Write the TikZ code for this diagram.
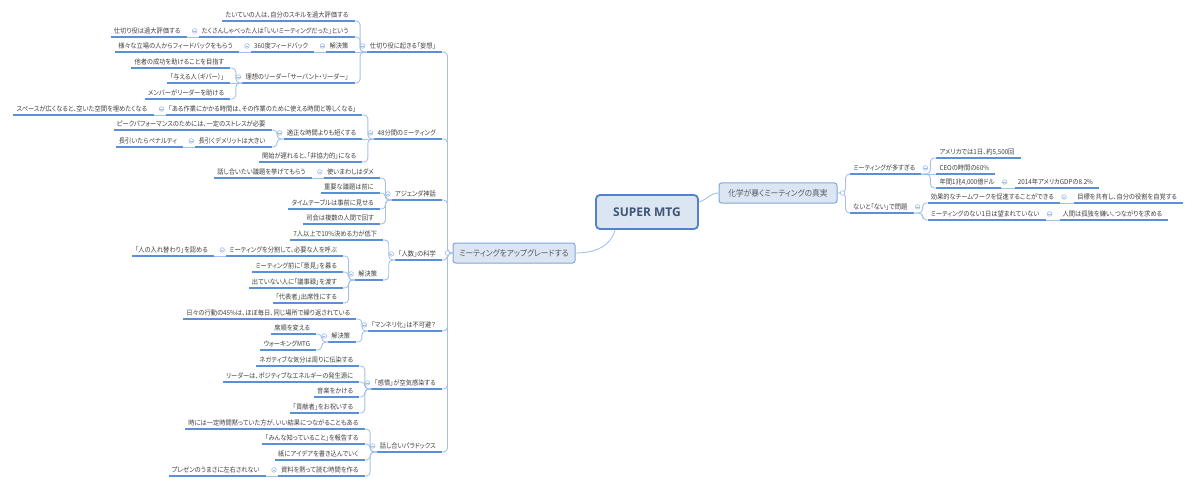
\documentclass[tikz,border=0pt]{standalone}
\usepackage{fontspec}
\newfontfamily\jp[RawFeature=+palt,FakeStretch=0.92]{Noto Sans CJK JP}
\newfontfamily\lat{Open Sans}
\usetikzlibrary{calc}
\definecolor{ulc}{HTML}{5B8FD6}
\definecolor{conc}{HTML}{A3C1EA}
\definecolor{mkc}{HTML}{9DBBE3}
\definecolor{txt}{HTML}{404040}
\definecolor{boxf}{HTML}{DCE6F3}
\definecolor{boxd}{HTML}{7EA6DC}
\definecolor{rootd}{HTML}{5083CC}
\definecolor{boxt}{HTML}{555B63}
\definecolor{roott}{HTML}{3E5478}
\newcommand\conL[2]{\draw[con] (#1.south west) -- ++(-6.5,0) |- (#2.south east);}
\newcommand\strL[2]{\draw[con] (#1.south west) -- (#2.south east);}
\newcommand\conR[2]{\draw[con] (#1.south east) -- ++(9,0) |- (#2.south west);}
\newcommand\strR[2]{\draw[con] (#1.south east) -- (#2.south west);}
\newcommand\mkL[1]{\draw[mk] ([xshift=-4pt]#1.west) circle (2.3pt); \draw[mkc,line width=0.5pt] ([xshift=-5.2pt]#1.west) -- ([xshift=-2.8pt]#1.west);}
\newcommand\mkR[1]{\draw[mk] ([xshift=4pt]#1.east) circle (2.3pt); \draw[mkc,line width=0.5pt] ([xshift=2.8pt]#1.east) -- ([xshift=5.2pt]#1.east);}
\begin{document}
\begin{tikzpicture}[x=1pt,y=-1pt,
  ul/.style={draw=ulc, line width=1.3pt},
  lf/.style={font=\jp\fontsize{6.8}{8}\selectfont, text=txt, inner xsep=3pt, inner ysep=2.4pt,
     text height=5.6pt, text depth=1.3pt, execute at end node={\hspace{3pt}},
     append after command={(\tikzlastnode.south west) edge[ul] (\tikzlastnode.south east)}},
  L/.style={lf, anchor=south east},
  R/.style={lf, anchor=south west},
  con/.style={draw=conc, line width=0.9pt, rounded corners=4pt},
  mk/.style={draw=mkc, fill=white, line width=0.6pt},
  box/.style={draw=boxd, fill=boxf, rounded corners=2.5pt, line width=1pt,
     font=\jp\fontsize{8.4}{9}\selectfont, text=boxt, minimum height=20pt},
  root/.style={draw=rootd, fill=boxf, rounded corners=4pt, line width=1.8pt,
     minimum width=102pt, minimum height=34pt, font=\lat\bfseries\fontsize{12}{14}\selectfont, text=roott}
]
\useasboundingbox (0,0) rectangle (1200,484);

% main boxes
\node[root] (root) at (647,212) {SUPER MTG};
\node[box, minimum width=122pt] (m1) at (514,253) {ミーティングをアップグレードする};
\node[box, minimum width=118pt] (m2) at (778,193) {化学が暴くミーティングの真実};

% level 2 left
\node[L] (a) at (442,52) {仕切り役に起きる「妄想」};
\node[L] (b) at (442,139) {48分間のミーティング};
\node[L] (c) at (442,200) {アジェンダ神話};
\node[L] (d) at (442,260) {「人数」の科学};
\node[L] (e) at (442,331) {「マンネリ化」は不可避？};
\node[L] (f) at (442,389) {「感情」が空気感染する};
\node[L] (g) at (442,452) {話し合いパラドックス};

% a
\coordinate (aX) at ([xshift=-12pt]a.south west);
\node[L] (a1) at (aX |- 0,21) {たいていの人は、自分のスキルを過大評価する};
\node[L] (a2) at (aX |- 0,37) {たくさんしゃべった人は「いいミーティングだった」という};
\node[L] (a3) at (aX) {解決策};
\node[L] (a4) at (aX |- 0,83) {理想のリーダー「サーバント・リーダー」};
\node[L] (a2a) at ([xshift=-12pt]a2.south west) {仕切り役は過大評価する};
\node[L] (a3a) at ([xshift=-12pt]a3.south west) {360度フィードバック};
\node[L] (a3a1) at ([xshift=-12pt]a3a.south west) {様々な立場の人からフィードバックをもらう};
\coordinate (a4X) at ([xshift=-12pt]a4.south west);
\node[L] (a4a) at (a4X |- 0,68) {他者の成功を助けることを目指す};
\node[L] (a4b) at (a4X) {「与える人（ギバー）」};
\node[L] (a4c) at (a4X |- 0,99) {メンバーがリーダーを助ける};

% b
\coordinate (bX) at ([xshift=-12pt]b.south west);
\node[L] (b1) at (bX |- 0,115) {「ある作業にかかる時間は、その作業のために使える時間と等しくなる」};
\node[L] (b1a) at ([xshift=-12pt]b1.south west) {スペースが広くなると、空いた空間を埋めたくなる};
\node[L] (b2) at (bX) {適正な時間よりも短くする};
\node[L] (b3) at (bX |- 0,162) {開始が遅れると、「非協力的」になる};
\coordinate (b2X) at ([xshift=-12pt]b2.south west);
\node[L] (b2a) at (b2X |- 0,130) {ピークパフォーマンスのためには、一定のストレスが必要};
\node[L] (b2b) at (b2X |- 0,147) {長引くデメリットは大きい};
\node[L] (b2b1) at ([xshift=-12pt]b2b.south west) {長引いたらペナルティ};

% c
\coordinate (cX) at ([xshift=-12pt]c.south west);
\node[L] (c1) at (cX |- 0,178) {使いまわしはダメ};
\node[L] (c2) at (cX |- 0,193) {重要な議題は前に};
\node[L] (c3) at (cX |- 0,209) {タイムテーブルは事前に見せる};
\node[L] (c4) at (cX |- 0,224) {司会は複数の人間で回す};
\node[L] (c1a) at ([xshift=-12pt]c1.south west) {話し合いたい議題を挙げてもらう};

% d
\coordinate (dX) at ([xshift=-12pt]d.south west);
\node[L] (d1) at (dX |- 0,240) {7人以上で10\%決める力が低下};
\node[L] (d2) at (dX |- 0,280) {解決策};
\coordinate (d2X) at ([xshift=-12pt]d2.south west);
\node[L] (d2a) at (d2X |- 0,256) {ミーティングを分割して、必要な人を呼ぶ};
\node[L] (d2b) at (d2X |- 0,272) {ミーティング前に「意見」を募る};
\node[L] (d2c) at (d2X |- 0,288) {出ていない人に「議事録」を渡す};
\node[L] (d2d) at (d2X |- 0,303) {「代表者」出席性にする};
\node[L] (d2a1) at ([xshift=-12pt]d2a.south west) {「人の入れ替わり」を認める};

% e
\coordinate (eX) at ([xshift=-12pt]e.south west);
\node[L] (e1) at (eX |- 0,319) {日々の行動の45\%は、ほぼ毎日、同じ場所で繰り返されている};
\node[L] (e2) at (eX |- 0,342) {解決策};
\coordinate (e2X) at ([xshift=-12pt]e2.south west);
\node[L] (e2a) at (e2X |- 0,334) {席順を変える};
\node[L] (e2b) at (e2X |- 0,350) {ウォーキングMTG};

% f
\coordinate (fX) at ([xshift=-12pt]f.south west);
\node[L] (f1) at (fX |- 0,366) {ネガティブな気分は周りに伝染する};
\node[L] (f2) at (fX |- 0,382) {リーダーは、ポジティブなエネルギーの発生源に};
\node[L] (f3) at (fX |- 0,397) {音楽をかける};
\node[L] (f4) at (fX |- 0,413) {「貢献者」をお祝いする};

% g
\coordinate (gX) at ([xshift=-12pt]g.south west);
\node[L] (g1) at (gX |- 0,429) {時には一定時間黙っていた方が、いい結果につながることもある};
\node[L] (g2) at (gX |- 0,444) {「みんな知っていること」を報告する};
\node[L] (g3) at (gX |- 0,460) {紙にアイデアを書き込んでいく};
\node[L] (g4) at (gX |- 0,476) {資料を黙って読む時間を作る};
\node[L] (g4a) at ([xshift=-12pt]g4.south west) {プレゼンのうまさに左右されない};

% right side
\node[R] (r1) at (850,174) {ミーティングが多すぎる};
\node[R] (r2) at (850,213) {ないと「ない」で問題};
\coordinate (r1X) at ([xshift=15pt]r1.south east);
\node[R] (r1a) at (r1X |- 0,158) {アメリカでは1日、約5,500回};
\node[R] (r1b) at (r1X) {CEOの時間の60\%};
\node[R] (r1c) at (r1X |- 0,188) {年間1兆4,000億ドル};
\node[R] (r1c1) at ([xshift=14pt]r1c.south east) {2014年アメリカGDPの8.2\%};
\coordinate (r2X) at ([xshift=14pt]r2.south east);
\node[R] (r2a) at (r2X |- 0,203) {効果的なチームワークを促進することができる};
\node[R] (r2a1) at ([xshift=14pt]r2a.south east) {目標を共有し、自分の役割を自覚する};
\node[R] (r2b) at (r2X |- 0,220) {ミーティングのない1日は望まれていない};
\node[R] (r2b1) at ([xshift=14pt]r2b.south east) {人間は孤独を嫌い、つながりを求める};

% connectors
\draw[con] ([xshift=20pt]root.south west) to[out=-105,in=0] (m1.east);
\draw[con] ([yshift=10pt]root.east) to[out=15,in=180] (m2.west);
\foreach \n in {a,b,c,d,e,f,g}{\draw[con] (m1.west) -- ++(-5,0) |- (\n.south east);}
\foreach \n in {r1,r2}{\draw[con] (m2.east) -- ++(8,0) |- (\n.south west);}
\conL{a}{a1}\conL{a}{a2}\strL{a}{a3}\conL{a}{a4}
\strL{a2}{a2a}\strL{a3}{a3a}\strL{a3a}{a3a1}
\conL{a4}{a4a}\strL{a4}{a4b}\conL{a4}{a4c}
\conL{b}{b1}\strL{b1}{b1a}\strL{b}{b2}\conL{b}{b3}
\conL{b2}{b2a}\conL{b2}{b2b}\strL{b2b}{b2b1}
\conL{c}{c1}\conL{c}{c2}\conL{c}{c3}\conL{c}{c4}\strL{c1}{c1a}
\conL{d}{d1}\conL{d}{d2}
\conL{d2}{d2a}\conL{d2}{d2b}\conL{d2}{d2c}\conL{d2}{d2d}\strL{d2a}{d2a1}
\conL{e}{e1}\conL{e}{e2}\conL{e2}{e2a}\conL{e2}{e2b}
\conL{f}{f1}\conL{f}{f2}\conL{f}{f3}\conL{f}{f4}
\conL{g}{g1}\conL{g}{g2}\conL{g}{g3}\conL{g}{g4}\strL{g4}{g4a}
\conR{r1}{r1a}\strR{r1}{r1b}\conR{r1}{r1c}\strR{r1c}{r1c1}
\conR{r2}{r2a}\conR{r2}{r2b}\strR{r2a}{r2a1}\strR{r2b}{r2b1}

% markers
\draw[mk] ([xshift=-5pt]m1.west) circle (2.3pt);
\draw[mk] ([xshift=5pt]m2.east) circle (2.3pt);
\foreach \n in {a,a2,a3,a3a,a4,b,b1,b2,b2b,c,c1,d,d2,d2a,e,e2,f,g,g4}{\mkL{\n}}
\foreach \n in {r1,r1c,r2,r2a,r2b}{\mkR{\n}}
\end{tikzpicture}
\end{document}
